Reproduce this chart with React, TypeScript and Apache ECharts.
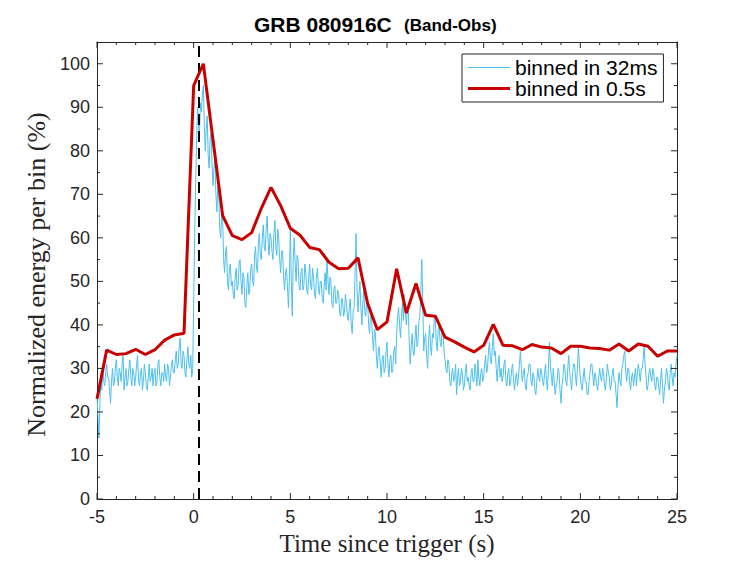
import React, { useEffect, useRef } from "react";
import * as echarts from "echarts";

// 0.5 s bins, from -5 s to 25 s
const RED_START = -5;
const RED_STEP = 0.5;
const RED_VALUES = [
  23.0, 34.2, 33.2, 33.4, 34.4, 33.2, 34.3, 36.5, 37.7, 38.1,
  95.0, 100.0, 82.5, 65.1, 60.5, 59.6, 61.2, 66.8, 71.6, 67.4,
  62.2, 60.6, 57.8, 57.3, 54.4, 52.9, 53.0, 55.4, 44.9, 38.9,
  40.7, 52.9, 42.7, 49.5, 42.2, 42.0, 37.2, 36.1, 34.9, 33.8,
  35.3, 40.1, 35.3, 35.2, 34.3, 35.5, 34.9, 34.7, 33.4, 35.1,
  35.1, 34.7, 34.6, 34.2, 35.6, 34.0, 35.6, 35.1, 32.8, 34.0,
  34.0,
];

// fine bins (read every 0.05 s), from -5 s to 25 s, one row per second
const BLUE_START = -5;
const BLUE_STEP = 0.05;
const BLUE_VALUES = [
  24, 19, 14, 22, 27, 25, 30, 27, 26, 29, 31, 28, 28, 25, 22, 27, 30, 26, 27, 30,
  32, 28, 26, 30, 29, 27, 31, 33, 25, 28, 30, 26, 27, 30, 32, 28, 26, 30, 29, 26,
  28, 31, 33, 27, 26, 29, 30, 25, 27, 31, 29, 26, 25, 28, 31, 27, 28, 30, 26, 29,
  30, 26, 27, 31, 32, 28, 26, 29, 29, 27, 31, 28, 27, 31, 30, 26, 28, 31, 32, 29,
  29, 32, 34, 30, 31, 35, 37, 31, 30, 34, 33, 29, 28, 32, 35, 31, 30, 33, 28, 30,
  45, 60, 72, 82, 90, 86, 84, 91, 89, 93, 95, 86, 80, 85, 88, 79, 76, 83, 84, 77,
  72, 76, 78, 70, 66, 72, 70, 62, 60, 66, 64, 55, 52, 57, 58, 50, 48, 53, 54, 49,
  50, 47, 46, 51, 53, 48, 49, 54, 55, 50, 47, 52, 51, 45, 44, 49, 52, 47, 48, 53,
  54, 50, 49, 56, 58, 53, 52, 59, 61, 56, 55, 60, 63, 58, 57, 62, 65, 59, 56, 61,
  60, 57, 55, 61, 64, 58, 56, 62, 60, 55, 52, 57, 57, 51, 48, 52, 53, 49, 44, 50,
  62, 50, 42, 55, 60, 54, 50, 56, 55, 49, 48, 52, 53, 48, 49, 54, 52, 48, 47, 51,
  54, 49, 48, 53, 51, 47, 46, 51, 53, 49, 47, 50, 50, 46, 45, 49, 52, 48, 55, 50,
  47, 51, 50, 45, 44, 48, 49, 45, 45, 48, 47, 43, 42, 46, 46, 42, 43, 47, 45, 42,
  41, 44, 46, 40, 38, 43, 44, 52, 61, 48, 43, 47, 50, 44, 40, 45, 48, 43, 42, 46,
  45, 40, 38, 43, 42, 37, 34, 39, 38, 33, 30, 34, 35, 31, 28, 32, 33, 29, 30, 34,
  36, 31, 28, 32, 33, 29, 30, 34, 35, 31, 38, 42, 44, 40, 37, 42, 45, 41, 47, 43,
  40, 43, 44, 36, 31, 35, 38, 34, 33, 37, 40, 35, 36, 41, 42, 48, 55, 45, 34, 37,
  38, 33, 30, 36, 40, 35, 33, 38, 37, 42, 41, 36, 34, 39, 40, 36, 35, 39, 38, 34,
  32, 30, 29, 32, 31, 27, 26, 29, 30, 27, 28, 31, 24, 28, 30, 26, 27, 30, 29, 25,
  26, 29, 31, 27, 28, 26, 25, 29, 30, 27, 27, 31, 29, 26, 32, 28, 26, 29, 30, 27,
  28, 31, 33, 29, 30, 34, 36, 32, 31, 35, 38, 33, 34, 30, 27, 31, 33, 28, 30, 27,
  28, 31, 32, 27, 26, 29, 30, 26, 27, 30, 31, 27, 25, 28, 29, 26, 28, 31, 34, 30,
  27, 29, 30, 26, 25, 28, 29, 31, 31, 27, 26, 29, 28, 25, 24, 27, 30, 28, 27, 30,
  29, 27, 26, 29, 31, 27, 25, 30, 36, 31, 28, 26, 30, 27, 24, 26, 27, 30, 29, 25,
  22, 26, 28, 31, 30, 27, 26, 30, 33, 29, 27, 25, 29, 31, 31, 28, 26, 30, 35, 31,
  28, 26, 25, 28, 30, 27, 27, 24, 24, 27, 29, 31, 31, 28, 26, 29, 28, 26, 25, 28,
  30, 28, 27, 30, 29, 26, 25, 28, 31, 29, 28, 25, 26, 29, 30, 27, 27, 24, 21, 26,
  29, 27, 26, 30, 31, 33, 34, 29, 27, 30, 30, 27, 25, 28, 29, 26, 28, 30, 26, 29,
  31, 29, 27, 30, 30, 32, 35, 31, 28, 25, 26, 29, 30, 28, 27, 30, 29, 26, 25, 28,
  28, 26, 24, 27, 30, 26, 22, 25, 27, 30, 29, 26, 25, 29, 31, 28, 26, 29, 28, 31,
  33,
];

// tick positions of the box (major and minor), in data units
const X_MIN = -5;
const X_MAX = 25;
const Y_MIN = 0;
const Y_MAX = 105;
const X_MAJOR_TICKS = [-5, 0, 5, 10, 15, 20, 25];
const X_MINOR_TICKS = [
  -4, -3, -2, -1, 1, 2, 3, 4, 6, 7, 8, 9, 11, 12, 13, 14,
  16, 17, 18, 19, 21, 22, 23, 24,
];
const Y_MAJOR_TICKS = [0, 10, 20, 30, 40, 50, 60, 70, 80, 90, 100];
const Y_MINOR_TICKS = [5, 15, 25, 35, 45, 55, 65, 75, 85, 95];

const TRIGGER_MARK = 0.26;
const TITLE_MAIN = "GRB 080916C";
const TITLE_SUB = "(Band-Obs)";
const X_NAME = "Time since trigger (s)";
const Y_NAME = "Normalized energy per bin (%)";
const LEGEND_BLUE = "binned in 32ms";
const LEGEND_RED = "binned in 0.5s";

const BLUE = "#4dbfed";
const RED = "#c80000";
const AXIS_COLOR = "#262626";
const SANS = "Liberation Sans, Arial, Helvetica, sans-serif";
const SERIF = "Liberation Serif, Times New Roman, serif";

function makeAxis(kind: "x" | "y", position: string, withLabels: boolean) {
  const isX = kind === "x";
  const axis: any = {
    type: "value",
    position,
    min: isX ? X_MIN : Y_MIN,
    max: isX ? X_MAX : Y_MAX,
    interval: isX ? 5 : 10,
    axisLine: {
      show: true,
      onZero: false,
      lineStyle: { color: AXIS_COLOR, width: 1 },
    },
    axisTick: { show: false },
    minorTick: { show: false },
    splitLine: { show: false },
    axisLabel: withLabels
      ? {
          show: true,
          color: AXIS_COLOR,
          fontFamily: SANS,
          fontSize: 18,
          margin: isX ? 9 : 7,
          showMaxLabel: isX ? true : false,
        }
      : { show: false },
  };
  return axis;
}

export default function App() {
  const ref = useRef<HTMLDivElement>(null);

  useEffect(() => {
    if (!ref.current) return;
    const chart = echarts.init(ref.current, undefined, { renderer: "svg" });

    const redData = RED_VALUES.map((v, i) => [RED_START + i * RED_STEP, v]);
    const blueData = BLUE_VALUES.map((v, i) => [
      +(BLUE_START + i * BLUE_STEP).toFixed(3),
      v,
    ]);

    // tick table: [value, length(px), dimension 0 = x / 1 = y]
    const tickData: number[][] = [
      ...X_MAJOR_TICKS.map((v) => [v, 6, 0]),
      ...X_MINOR_TICKS.map((v) => [v, 3, 0]),
      ...Y_MAJOR_TICKS.map((v) => [v, 6, 1]),
      ...Y_MINOR_TICKS.map((v) => [v, 3, 1]),
    ];

    const xBottom = makeAxis("x", "bottom", true);
    xBottom.name = X_NAME;
    xBottom.nameLocation = "middle";
    xBottom.nameGap = 27;
    xBottom.nameTextStyle = { fontFamily: SERIF, fontSize: 25, color: AXIS_COLOR };

    const yLeft = makeAxis("y", "left", true);
    yLeft.name = Y_NAME;
    yLeft.nameLocation = "middle";
    yLeft.nameGap = 42;
    yLeft.nameTextStyle = {
      fontFamily: SERIF,
      fontSize: 26,
      color: AXIS_COLOR,
      padding: [0, 8, 0, 0],
    };

    const option: any = {
      animation: false,
      backgroundColor: "#ffffff",
      grid: { left: 97, top: 42, right: 70, bottom: 62 },
      graphic: [
        {
          type: "text",
          style: {
            text: TITLE_MAIN,
            x: 254,
            y: 24.2,
            fill: "#000",
            font: `bold 21px ${SANS}`,
            textAlign: "left",
            textVerticalAlign: "middle",
          },
        },
        {
          type: "text",
          style: {
            text: TITLE_SUB,
            x: 404,
            y: 25.6,
            fill: "#000",
            font: `bold 17px ${SANS}`,
            textAlign: "left",
            textVerticalAlign: "middle",
          },
        },
      ],
      legend: {
        orient: "vertical",
        left: 462,
        top: 54,
        padding: [3, 6, 3, 6],
        itemWidth: 42,
        itemHeight: 14,
        itemGap: 0,
        borderColor: AXIS_COLOR,
        borderWidth: 1,
        backgroundColor: "#ffffff",
        textStyle: {
          fontFamily: SANS,
          fontSize: 21,
          color: "#000",
          lineHeight: 20,
        },
        data: [
          { name: LEGEND_BLUE, icon: "path://M0,0H42V1.2H0Z" },
          { name: LEGEND_RED, icon: "path://M0,0H42V3H0Z" },
        ],
      },
      xAxis: [xBottom, makeAxis("x", "top", false)],
      yAxis: [yLeft, makeAxis("y", "right", false)],
      series: [
        {
          name: LEGEND_BLUE,
          type: "line",
          xAxisIndex: 0,
          yAxisIndex: 0,
          data: blueData,
          symbol: "none",
          lineStyle: { color: BLUE, width: 1 },
          itemStyle: { color: BLUE },
          z: 2,
        },
        {
          name: LEGEND_RED,
          type: "line",
          xAxisIndex: 0,
          yAxisIndex: 0,
          data: redData,
          symbol: "none",
          lineStyle: { color: RED, width: 3 },
          itemStyle: { color: RED },
          z: 4,
          markLine: {
            silent: true,
            symbol: "none",
            label: { show: false },
            lineStyle: { color: "#000", width: 2, type: [11, 6] },
            data: [{ xAxis: TRIGGER_MARK }],
            z: 3,
          },
        },
        {
          name: "ticks",
          type: "custom",
          xAxisIndex: 0,
          yAxisIndex: 0,
          silent: true,
          clip: false,
          z: 10,
          data: tickData,
          encode: { x: 0, y: 1 },
          renderItem: (params: any, api: any) => {
            const v = api.value(0);
            const len = api.value(1);
            const dim = api.value(2);
            const style = { stroke: AXIS_COLOR, lineWidth: 1 };
            if (dim === 0) {
              const b = api.coord([v, Y_MIN]);
              const t = api.coord([v, Y_MAX]);
              return {
                type: "group",
                children: [
                  {
                    type: "line",
                    shape: { x1: b[0], y1: b[1], x2: b[0], y2: b[1] - len },
                    style,
                  },
                  {
                    type: "line",
                    shape: { x1: t[0], y1: t[1], x2: t[0], y2: t[1] + len },
                    style,
                  },
                ],
              };
            }
            const l = api.coord([X_MIN, v]);
            const r = api.coord([X_MAX, v]);
            return {
              type: "group",
              children: [
                {
                  type: "line",
                  shape: { x1: l[0], y1: l[1], x2: l[0] + len, y2: l[1] },
                  style,
                },
                {
                  type: "line",
                  shape: { x1: r[0], y1: r[1], x2: r[0] - len, y2: r[1] },
                  style,
                },
              ],
            };
          },
        },
      ],
    };

    chart.setOption(option);
    return () => chart.dispose();
  }, []);

  return (
    <div
      ref={ref}
      style={{ position: "fixed", left: 0, top: 0, width: 747, height: 561 }}
    />
  );
}
